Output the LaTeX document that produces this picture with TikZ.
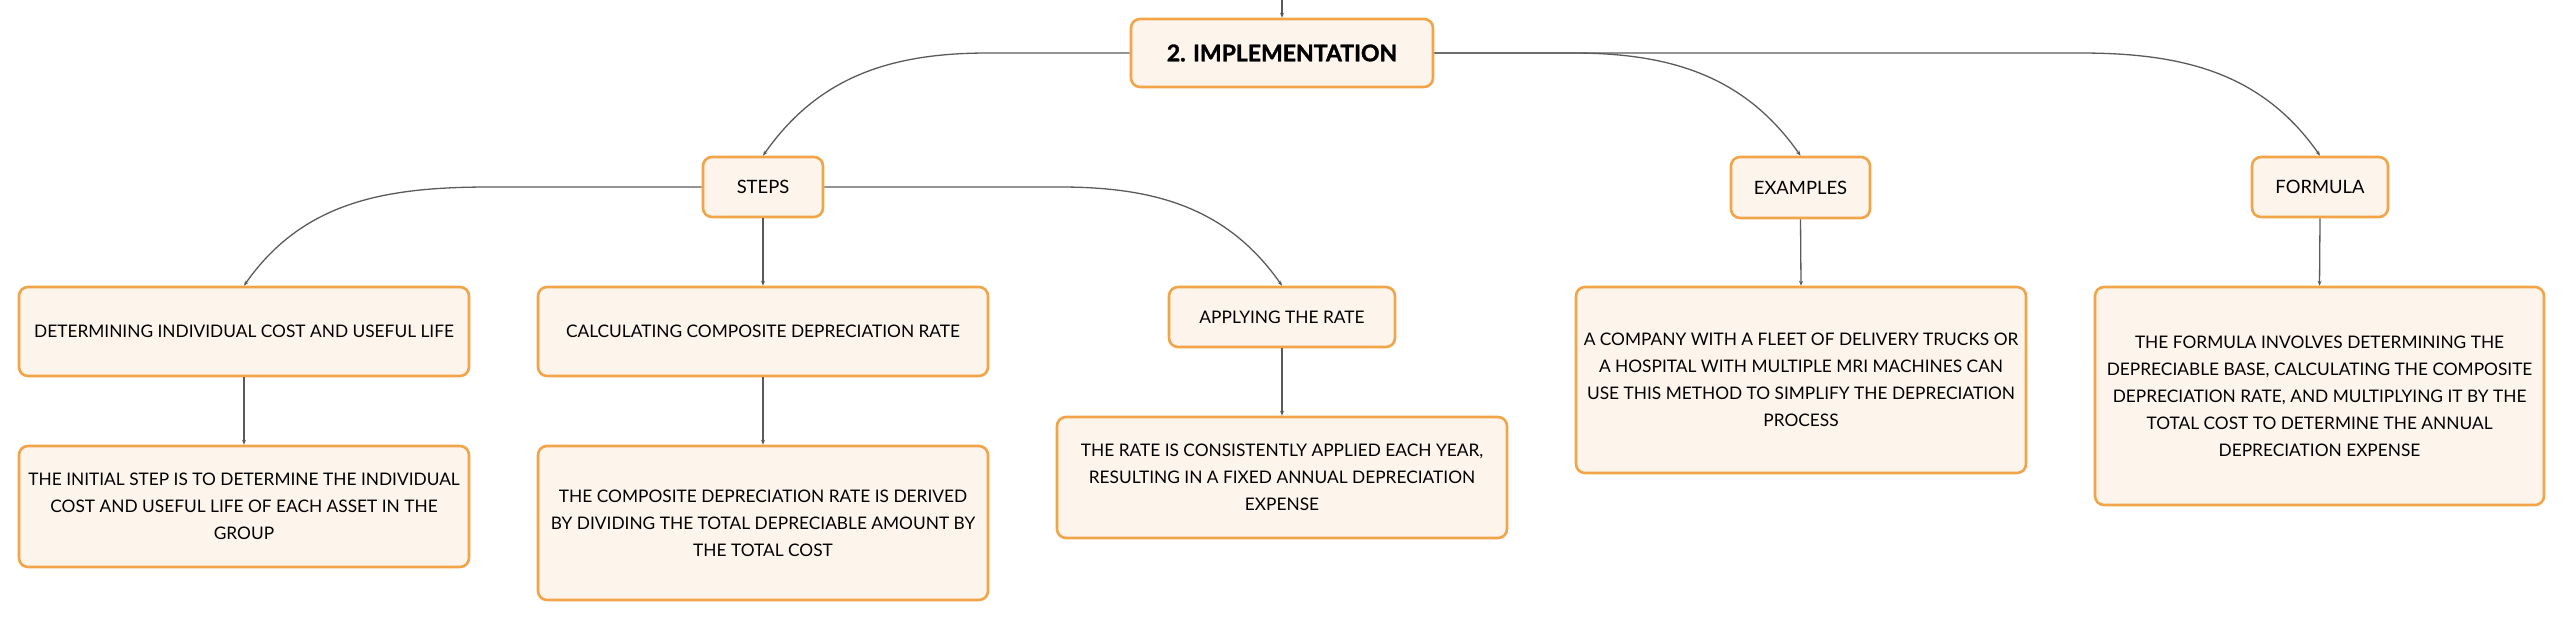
\documentclass[tikz,border=0pt]{standalone}
\usepackage{fontspec}
\setmainfont{Lato}
\newfontfamily\heavyfont{Lato}[BoldFeatures={FakeBold=1.5}]
\usetikzlibrary{arrows.meta,calc}
\definecolor{boxborder}{HTML}{F2A449}
\definecolor{boxfill}{HTML}{FDF4EC}
\definecolor{linegray}{HTML}{5A5A5A}
\tikzset{
  box/.style={draw=boxborder, fill=boxfill, line width=2.6pt, rounded corners=9pt,
    align=center, inner sep=0pt, text=black, font=\fontsize{17.3}{27}\selectfont},
  lvltwo/.style={box, font=\fontsize{18.4}{27}\selectfont},
  rootbox/.style={box, font=\fontsize{23}{30}\heavyfont\bfseries},
  conn/.style={draw=linegray, line width=1.3pt, -{Stealth[length=5pt,width=4pt]}},
}
\begin{document}
\begin{tikzpicture}[x=1pt,y=1pt]
\useasboundingbox (0,0) rectangle (2565,-620);
% nodes
\node[rootbox, minimum width=302, minimum height=68] (impl) at (1282,-53) {2. IMPLEMENTATION};
\node[lvltwo, minimum width=120, minimum height=60] (steps) at (763,-187) {STEPS};
\node[lvltwo, minimum width=139, minimum height=61] (examples) at (1800.5,-187.5) {EXAMPLES};
\node[lvltwo, minimum width=136, minimum height=60] (formula) at (2320,-187) {FORMULA};
\node[box, minimum width=450, minimum height=89] (det) at (244,-331.5) {DETERMINING INDIVIDUAL COST AND USEFUL LIFE};
\node[box, minimum width=450, minimum height=121] (initial) at (244,-506.5) {THE INITIAL STEP IS TO DETERMINE THE INDIVIDUAL\\COST AND USEFUL LIFE OF EACH ASSET IN THE\\GROUP};
\node[box, minimum width=450, minimum height=89] (calc) at (763,-331.5) {CALCULATING COMPOSITE DEPRECIATION RATE};
\node[box, minimum width=450, minimum height=154] (comp) at (763,-523) {THE COMPOSITE DEPRECIATION RATE IS DERIVED\\BY DIVIDING THE TOTAL DEPRECIABLE AMOUNT BY\\THE TOTAL COST};
\node[box, minimum width=226, minimum height=60] (apply) at (1282,-317) {APPLYING THE RATE};
\node[box, minimum width=450, minimum height=121] (rate) at (1282,-477.5) {THE RATE IS CONSISTENTLY APPLIED EACH YEAR,\\RESULTING IN A FIXED ANNUAL DEPRECIATION\\EXPENSE};
\node[box, minimum width=450, minimum height=186] (extext) at (1801,-380) {A COMPANY WITH A FLEET OF DELIVERY TRUCKS OR\\A HOSPITAL WITH MULTIPLE MRI MACHINES CAN\\USE THIS METHOD TO SIMPLIFY THE DEPRECIATION\\PROCESS};
\node[box, minimum width=449, minimum height=218] (ftext) at (2319.5,-396) {THE FORMULA INVOLVES DETERMINING THE\\DEPRECIABLE BASE, CALCULATING THE COMPOSITE\\DEPRECIATION RATE, AND MULTIPLYING IT BY THE\\TOTAL COST TO DETERMINE THE ANNUAL\\DEPRECIATION EXPENSE};
% helper coordinates
\coordinate (topin) at (1282,0);
\path (steps.north) ++(225,0) coordinate (hs);
\path (examples.north) ++(-228,0) coordinate (he);
\path (formula.north) ++(-240,0) coordinate (hf);
\path (det.north) ++(246,0) coordinate (hd);
\path (apply.north) ++(-222,0) coordinate (ha);
% connectors
\draw[conn] (topin) -- (impl.north);
\draw[conn] (impl.west) -- (impl.west -| hs) to[out=180,in=55] (steps.north);
\draw[conn] (impl.east) -- (impl.east -| he) to[out=0,in=125] (examples.north);
\draw[conn] (impl.east) -- (impl.east -| hf) to[out=0,in=125] (formula.north);
\draw[conn] (steps.west) -- (steps.west -| hd) to[out=180,in=55] (det.north);
\draw[conn] (steps.east) -- (steps.east -| ha) to[out=0,in=125] (apply.north);
\draw[conn] (steps.south) -- (calc.north);
\draw[conn] (det.south) -- (initial.north);
\draw[conn] (calc.south) -- (comp.north);
\draw[conn] (apply.south) -- (rate.north);
\draw[conn] (examples.south) -- (extext.north);
\draw[conn] (formula.south) -- (ftext.north);
\end{tikzpicture}
\end{document}
